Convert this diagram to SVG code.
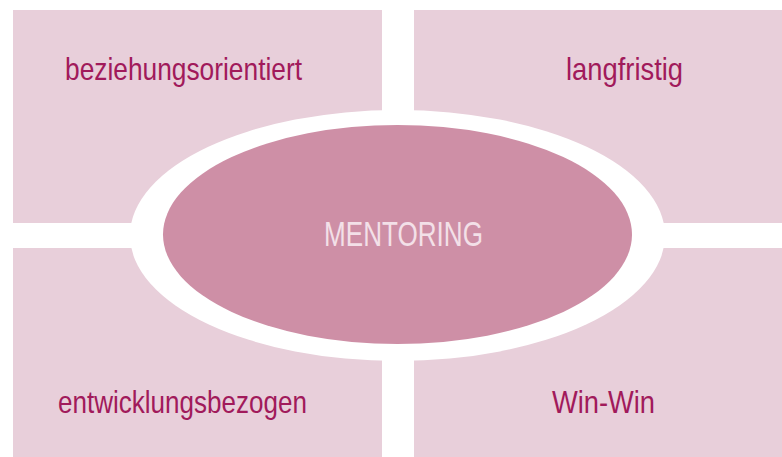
<svg xmlns="http://www.w3.org/2000/svg" width="782" height="457" viewBox="0 0 782 457">
<style>
.q{fill:#e8cfda}
.t{font-family:"Liberation Sans Narrow","Liberation Sans",Arial,sans-serif;font-size:32px;fill:#a11a5b;text-anchor:middle}
.m{font-family:"Liberation Sans Narrow","Liberation Sans",Arial,sans-serif;font-size:35px;fill:#f3e0e8;text-anchor:middle}
</style>
<rect width="782" height="457" fill="#ffffff"/>
<g id="q1"><rect class="q" x="13" y="10" width="369" height="213"/><text class="t" x="183.5" y="80" textLength="237" lengthAdjust="spacingAndGlyphs">beziehungsorientiert</text></g>
<g id="q2"><rect class="q" x="414" y="10" width="368" height="213"/><text class="t" x="624.5" y="80" textLength="117" lengthAdjust="spacingAndGlyphs">langfristig</text></g>
<g id="q3"><rect class="q" x="13" y="248" width="369" height="209"/><text class="t" x="182.5" y="413" textLength="249" lengthAdjust="spacingAndGlyphs">entwicklungsbezogen</text></g>
<g id="q4"><rect class="q" x="414" y="248" width="368" height="209"/><text class="t" x="603.5" y="413" textLength="103" lengthAdjust="spacingAndGlyphs">Win-Win</text></g>
<g id="center">
<ellipse cx="397.5" cy="235.5" rx="267.5" ry="125.5" fill="#ffffff"/>
<ellipse cx="397.5" cy="234.5" rx="234.5" ry="109.5" fill="#ce8fa6"/>
<text class="m" x="403.5" y="246" textLength="159" lengthAdjust="spacingAndGlyphs">MENTORING</text>
</g>
<g id="connectors"/>
</svg>
